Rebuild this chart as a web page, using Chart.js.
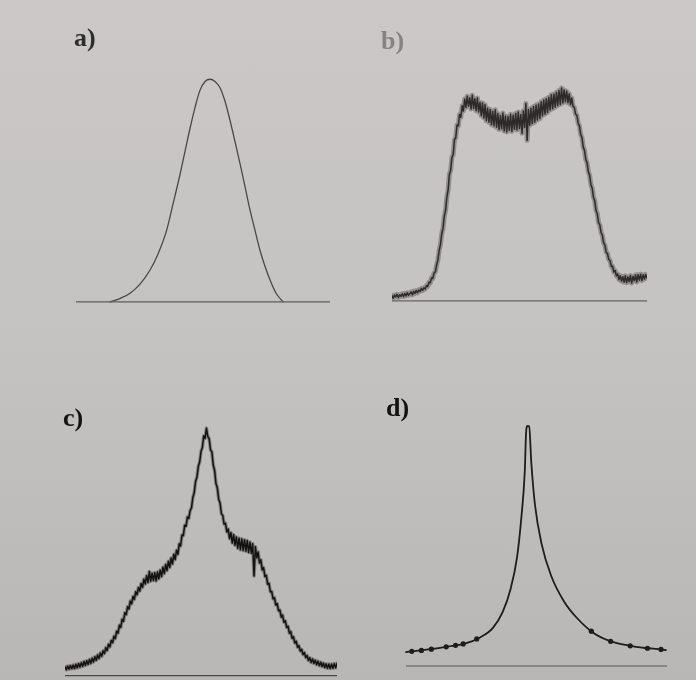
<!DOCTYPE html>
<html>
<head>
<meta charset="utf-8">
<script src="https://cdn.jsdelivr.net/npm/chart.js@4.4.1/dist/chart.umd.min.js"></script>
<style>
  html, body { margin: 0; padding: 0; }
  body {
    width: 696px; height: 680px; overflow: hidden; position: relative;
    background: linear-gradient(180deg, #cbc8c7 0%, #c4c3c1 50%, #b9b7b5 100%);
  }
  canvas { position: absolute; }
  .lbl {
    position: absolute; font-family: 'Liberation Serif', 'DejaVu Serif', serif;
    font-weight: bold; font-size: 26px; line-height: 1; filter: blur(0.5px);
  }
</style>
</head>
<body>
<div class="lbl" style="left:74px; top:25px; color:#2e2e2e;">a)</div>
<div class="lbl" style="left:381px; top:28px; color:#878383;">b)</div>
<div class="lbl" style="left:63px; top:405px; color:#121212;">c)</div>
<div class="lbl" style="left:386px; top:395px; color:#121212;">d)</div>

<canvas id="chartA" width="254" height="256" style="left:76px; top:57px;"></canvas>
<canvas id="chartB" width="255" height="235" style="left:392px; top:76px;"></canvas>
<canvas id="chartC" width="272" height="283" style="left:65px; top:405px;"></canvas>
<canvas id="chartD" width="269" height="284" style="left:402px; top:398px;"></canvas>

<script>
// x is position along each panel's axis (0-100), y is intensity relative to the panel's main peak (0-100)
const baseX = [0, 100];
const baseY = [0, 0];

// a) smooth gaussian-like profile
const aX = [13.4, 17.3, 21.3, 25.2, 29.1, 32.3, 35.7, 38.2, 40.9, 42.9, 44.9, 46.9, 48.8, 50.8, 52.8,
  54.7, 56.7, 58.7, 60.6, 62.6, 64.6, 66.5, 68.5, 70.5, 72.4, 74.4, 76.4, 78.7, 81.5];
const aY = [0, 1.5, 3.9, 8, 14.2, 21.5, 32.2, 44, 57, 67.5, 78, 87.5, 95, 99, 100,
  99, 96.2, 90, 81.7, 72, 62, 52, 41.3, 32, 23.3, 16, 9.8, 4, 0];

// b) noisy flat-top profile, sampled every 0.5 along x
const bStep = 0.5;
const bY = [
  2.5, 1.2, 2.8, 1.9, 3.1, 1.6, 2.9, 2.2, 3.4, 2.1, 3.6, 2.4, 3.9, 2.7, 3.5, 4.3, 2.9, 4.6, 3.6, 5.0,
  3.9, 5.3, 4.6, 6.0, 5.1, 6.4, 5.8, 7.4, 7.0, 9.1, 8.8, 11.2, 10.9, 13.6, 14.2, 17.5, 20.0, 24.6, 27.5, 32.8,
  35.4, 41.3, 44.2, 50.6, 54.1, 61.8, 63.9, 70.2, 71.6, 78.9, 79.8, 86.0, 85.6, 91.2, 89.8, 95.4, 92.9, 98.8, 94.6, 100.1,
  95.2, 99.3, 93.8, 100.6, 94.1, 98.9, 93.0, 99.2, 92.4, 97.1, 90.6, 96.8, 89.5, 95.9, 88.1, 94.2, 87.4, 93.6, 86.2, 92.8,
  85.7, 93.5, 84.9, 91.6, 83.8, 90.7, 84.2, 91.9, 83.1, 90.4, 82.6, 90.2, 83.5, 91.3, 82.9, 90.8, 84.0, 91.7, 83.6, 92.4,
  84.3, 91.1, 82.0, 92.9, 84.8, 96.5, 78.5, 93.6, 85.9, 94.2, 86.7, 95.1, 87.4, 95.8, 88.5, 96.3, 89.2, 97.4, 90.6, 98.2,
  91.3, 98.9, 92.1, 99.6, 93.4, 100.8, 94.0, 101.2, 94.7, 102.0, 95.5, 102.9, 96.1, 104.1, 96.8, 103.2, 97.4, 102.6, 96.9, 101.3,
  96.0, 99.2, 95.1, 94.6, 91.3, 90.8, 86.9, 85.6, 81.4, 79.8, 75.2, 73.6, 69.1, 67.5, 63.2, 61.4, 56.8, 55.1, 50.7, 49.0,
  44.3, 42.6, 38.2, 37.1, 33.4, 32.0, 28.3, 27.2, 23.8, 23.1, 20.2, 19.7, 16.8, 16.9, 14.1, 14.8, 12.2, 13.1, 10.4, 12.3,
  9.6, 11.8, 9.1, 12.2, 8.9, 11.6, 9.4, 12.4, 8.7, 11.9, 9.8, 12.6, 9.2, 12.8, 10.1, 13.0, 9.9, 12.7, 10.6, 12.9,
  11.2
];

// c) noisy central cusp with two shoulders, sampled every 0.5 along x
const cStep = 0.5;
const cY = [
  3.6, 2.4, 3.9, 2.6, 4.1, 2.8, 4.3, 2.9, 4.6, 3.2, 4.9, 3.5, 5.3, 3.8, 5.8, 4.2, 6.1, 4.6, 6.6, 5.0,
  7.1, 5.6, 7.7, 6.3, 8.4, 7.0, 9.2, 7.9, 10.1, 9.0, 11.4, 10.2, 12.8, 11.7, 14.3, 13.4, 16.0, 15.1, 18.1, 17.3,
  20.5, 19.6, 22.9, 22.1, 25.6, 24.8, 28.0, 27.1, 30.3, 29.2, 32.2, 31.0, 34.1, 32.9, 35.8, 34.4, 37.5, 35.9, 39.2, 37.3,
  40.6, 37.9, 42.3, 38.4, 41.6, 38.7, 41.8, 38.5, 42.1, 39.4, 42.9, 40.3, 44.1, 41.5, 45.2, 42.7, 46.5, 44.0, 47.8, 45.4,
  49.3, 47.2, 51.0, 49.3, 53.6, 52.7, 57.2, 56.9, 61.1, 60.7, 64.5, 63.9, 67.1, 68.2, 72.4, 74.3, 78.9, 80.6, 85.0, 86.8,
  91.1, 92.7, 97.5, 96.4, 100.6, 97.2, 96.3, 91.8, 90.9, 85.6, 83.4, 78.1, 76.4, 71.7, 70.2, 65.8, 65.1, 61.6, 61.9, 58.4,
  59.6, 55.7, 58.1, 53.9, 57.3, 53.0, 56.4, 51.8, 55.9, 51.2, 55.6, 50.9, 55.2, 50.6, 54.9, 50.1, 54.3, 49.8, 53.6, 40.5,
  52.4, 47.9, 50.3, 45.8, 47.1, 43.0, 43.9, 40.3, 40.8, 37.2, 37.5, 34.1, 34.2, 31.2, 31.7, 28.7, 29.3, 26.4, 26.7, 23.8,
  24.6, 21.7, 22.3, 19.6, 20.1, 17.3, 17.9, 15.2, 15.8, 13.3, 14.0, 11.6, 12.2, 10.0, 10.7, 8.6, 9.4, 7.4, 8.2, 6.2,
  7.3, 5.4, 6.8, 5.0, 6.3, 4.5, 5.9, 4.1, 5.5, 3.7, 5.1, 3.3, 4.8, 3.0, 4.7, 2.9, 4.7, 3.0, 4.9, 3.2,
  5.0
];

// d) sharp cusp with long tails, plus the dots drawn on the tails
const dX = [0, 9.8, 16.0, 22.2, 28.4, 33.3, 37.1, 40.1, 42.6, 44.2, 45.5, 46.0, 46.5, 47.2, 48.0,
  49.4, 51.9, 55.6, 60.6, 65.5, 71.7, 78.0, 85.4, 91.6, 97.8, 99.6];
const dY = [5.8, 7.1, 8.1, 9.2, 11.9, 15.9, 22.7, 32.2, 45.7, 61.9, 80.8, 97.0, 100, 99.8, 84.9,
  67.3, 51.1, 37.6, 26.8, 20.0, 13.9, 10.5, 8.5, 7.5, 6.9, 6.6];
const dDotX = [2.2, 5.9, 9.7, 15.4, 19.0, 21.9, 27.1, 71.0, 78.4, 85.9, 92.5, 97.7];
const dDotY = [6.1, 6.5, 7.0, 8.0, 8.6, 9.2, 11.3, 14.5, 10.3, 8.4, 7.4, 6.9];

const pts = (xs, ys) => ys.map((y, i) => ({ x: xs[i], y }));
const grid = (ys, step) => ys.map((y, i) => ({ x: i * step, y }));

function baseline(color) {
  return { data: pts(baseX, baseY), borderColor: color, borderWidth: 1.2, pointRadius: 0 };
}

function makePanel(id, datasets) {
  new Chart(document.getElementById(id), {
    type: 'line',
    data: { datasets },
    options: {
      responsive: false,
      animation: false,
      layout: { padding: 0 },
      plugins: { legend: { display: false }, tooltip: { enabled: false } },
      elements: { point: { radius: 0 }, line: { borderJoinStyle: 'round', borderCapStyle: 'round' } },
      scales: {
        x: { type: 'linear', min: 0, max: 100, display: false },
        y: { min: -5, max: 110, display: false }
      }
    }
  });
}

makePanel('chartA', [
  baseline('#5f5d5c'),
  { data: pts(aX, aY), borderColor: '#4a4847', borderWidth: 1.3, cubicInterpolationMode: 'monotone', clip: false }
]);

// noisy traces get a soft wide stroke under the sharp one, like the smeared print
makePanel('chartB', [
  baseline('#666463'),
  { data: grid(bY, bStep), borderColor: 'rgba(50,44,44,0.35)', borderWidth: 5, clip: false },
  { data: grid(bY, bStep), borderColor: '#2f2a2a', borderWidth: 1.5, clip: false }
]);

makePanel('chartC', [
  baseline('#4a4847'),
  { data: grid(cY, cStep), borderColor: 'rgba(20,18,18,0.35)', borderWidth: 3.5, clip: false },
  { data: grid(cY, cStep), borderColor: '#141212', borderWidth: 1.5, clip: false }
]);

makePanel('chartD', [
  baseline('#5a5857'),
  { data: pts(dX, dY), borderColor: '#1e1c1c', borderWidth: 1.8, cubicInterpolationMode: 'monotone', clip: false },
  { data: pts(dDotX, dDotY), showLine: false, pointRadius: 2.6, pointBackgroundColor: '#1e1c1c', pointBorderWidth: 0 }
]);
</script>
</body>
</html>
